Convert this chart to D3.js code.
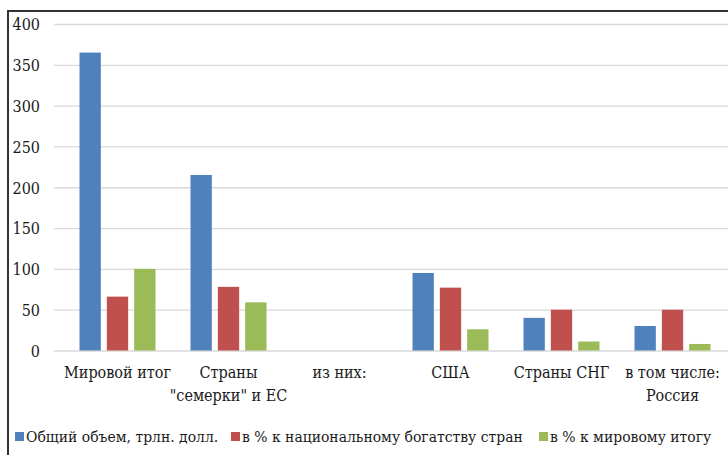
<!DOCTYPE html>
<html>
<head>
<meta charset="utf-8">
<script src="https://cdn.jsdelivr.net/npm/d3@7"></script>
<style>
  body { margin: 0; background: #fff; }
</style>
</head>
<body>
<div id="chart"></div>
<script>
// categories (line breaks marked with \n)
const categories = ['Мировой итог', 'Страны\n"семерки" и ЕС', 'из них:', 'США', 'Страны СНГ', 'в том числе:\nРоссия'];
// series
const seriesNames = ['Общий объем, трлн. долл.', 'в % к национальному богатству стран', 'в % к мировому итогу'];
const totalVolume = [365, 215, null, 95, 40, 30];
const pctNational = [66, 78, null, 77, 50, 50];
const pctWorld = [100, 59, null, 26, 11, 8];
const yTicks = [0, 50, 100, 150, 200, 250, 300, 350, 400];

const colors = ['#4f81bd', '#c0504d', '#9bbb59'];
const series = [totalVolume, pctNational, pctWorld];
const FONT = '"DejaVu Serif Condensed", "DejaVu Serif"';

const width = 728, height = 455;
const margin = {top: 24, bottom: 105, left: 54, right: 0};

const svg = d3.select('#chart').append('svg')
    .attr('width', width)
    .attr('height', height)
    .style('font-family', FONT);

// outer frame (runs off the right/bottom of the picture)
svg.append('path')
    .attr('d', `M8,${height + 5}V11H${width + 5}`)
    .attr('fill', 'none')
    .attr('stroke', '#333')
    .attr('stroke-width', 2);

const scaleY = d3.scaleLinear([0, 400], [350.5, 24]);
const scaleX = d3.scaleBand(d3.range(categories.length), [62, 728]).padding(0);
const scaleSub = d3.scaleBand(d3.range(series.length), [0, 76]).paddingInner(0.22);

// gridlines
svg.append('g')
    .attr('transform', `translate(${margin.left},0)`)
    .call(d3.axisRight(scaleY).tickValues(yTicks).tickSize(width - margin.left).tickFormat(''))
    .call(g => g.select('.domain').remove())
    .call(g => g.selectAll('line').attr('stroke', '#d9d9d9').attr('stroke-width', 1.3));

// y axis labels
svg.append('g')
    .attr('transform', 'translate(40,0)')
    .call(d3.axisLeft(scaleY).tickValues(yTicks).tickSize(0).tickPadding(0))
    .attr('font-family', null)
    .attr('font-size', 16)
    .call(g => g.select('.domain').remove())
    .call(g => g.selectAll('text').attr('fill', '#1a1a1a').attr('dy', '0.36em').style('font-family', FONT));

// bars
const groups = svg.append('g').selectAll('g')
    .data(categories.map((c, i) => i))
    .join('g')
    .attr('transform', i => `translate(${scaleX(i) + scaleX.bandwidth() / 2 - 38},0)`);

groups.selectAll('rect')
    .data(i => series.map((s, k) => ({k, v: s[i]})).filter(d => d.v != null))
    .join('rect')
    .attr('x', d => scaleSub(d.k))
    .attr('width', scaleSub.bandwidth())
    .attr('y', d => scaleY(d.v))
    .attr('height', d => scaleY(0) - scaleY(d.v))
    .attr('fill', d => colors[d.k]);

// category labels
const labels = svg.append('g').selectAll('text')
    .data(categories)
    .join('text')
    .attr('text-anchor', 'middle')
    .attr('font-size', 16)
    .attr('fill', '#1a1a1a')
    .attr('x', (d, i) => scaleX(i) + scaleX.bandwidth() / 2)
    .attr('y', 378);
labels.selectAll('tspan')
    .data(d => d.split('\n'))
    .join('tspan')
    .attr('x', function() { return this.parentNode.getAttribute('x'); })
    .attr('dy', (d, j) => j ? 23 : 0)
    .text(d => d);

// legend
const legendX = [15, 231, 539];
const legend = svg.append('g').selectAll('g')
    .data(seriesNames)
    .join('g')
    .attr('transform', (d, i) => `translate(${legendX[i]},432)`);
legend.append('rect')
    .attr('width', 9).attr('height', 9)
    .attr('fill', (d, i) => colors[i]);
legend.append('text')
    .attr('x', 11)
    .attr('y', 10)
    .attr('font-size', 15.5)
    .attr('fill', '#1a1a1a')
    .text(d => d);
</script>
</body>
</html>
